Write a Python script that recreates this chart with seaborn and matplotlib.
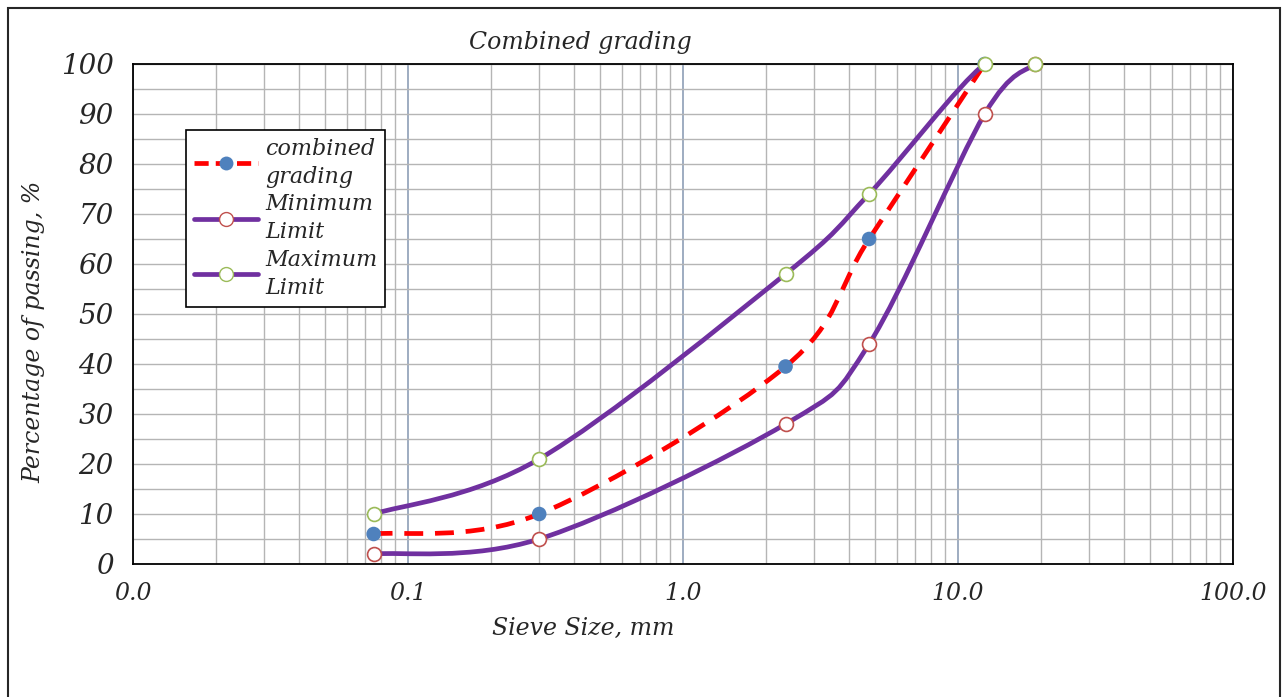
import numpy as np
import pandas as pd
import matplotlib
matplotlib.use("Agg")
import matplotlib.pyplot as plt
import seaborn as sns
from matplotlib.path import Path
from matplotlib.patches import PathPatch, Rectangle
from matplotlib.lines import Line2D
from matplotlib.ticker import FixedLocator, NullFormatter

# sieve data
sieve_comb = [0.075, 0.3, 2.36, 4.75, 12.5]
combined = [6, 10, 39.5, 65, 100]
sieve_lim = [0.075, 0.3, 2.36, 4.75, 12.5, 19.0]
min_limit = [2, 5, 28, 44, 90, 100]
max_limit = [10, 21, 58, 74, 100, 100]
xtick_vals = [0.01, 0.1, 1, 10, 100]
xtick_labels = ["0.0", "0.1", "1.0", "10.0", "100.0"]
ytick_vals = list(range(0, 101, 10))

sns.set_style("white")
serif = ["DejaVu Serif"]

fig = plt.figure(figsize=(12.87, 6.97), dpi=100)
ax = fig.add_axes([133/1287, 1-564/697, 1100/1287, 500/697])

def smooth_path(xs, ys):
    # smoothed line like excel: bezier segments, tangents taken in log-x space
    lx = np.log10(xs)
    y = np.asarray(ys, float)
    n = len(lx)
    verts = [(xs[0], y[0])]
    codes = [Path.MOVETO]
    for i in range(n - 1):
        p0 = (lx[max(i-1, 0)], y[max(i-1, 0)])
        p1 = (lx[i], y[i])
        p2 = (lx[i+1], y[i+1])
        p3 = (lx[min(i+2, n-1)], y[min(i+2, n-1)])
        c1 = (p1[0] + (p2[0]-p0[0])/6, p1[1] + (p2[1]-p0[1])/6)
        c2 = (p2[0] - (p3[0]-p1[0])/6, p2[1] - (p3[1]-p1[1])/6)
        verts += [(10**c1[0], c1[1]), (10**c2[0], c2[1]), (10**p2[0], p2[1])]
        codes += [Path.CURVE4]*3
    return Path(verts, codes)

purple = "#7030a0"
ax.set_xscale("log")
ax.set_xlim(0.01, 100)
ax.set_ylim(0, 100)

ax.add_patch(PathPatch(smooth_path(sieve_comb, combined), fill=False, ec="#ff0000", lw=3.4,
                       ls=(0, (4, 2.5)), zorder=3))
ax.add_patch(PathPatch(smooth_path(sieve_lim, min_limit), fill=False, ec=purple, lw=3.4, zorder=4))
ax.add_patch(PathPatch(smooth_path(sieve_lim, max_limit), fill=False, ec=purple, lw=3.4, zorder=4))

df_c = pd.DataFrame({"x": sieve_comb, "y": combined})
df_min = pd.DataFrame({"x": sieve_lim, "y": min_limit})
df_max = pd.DataFrame({"x": sieve_lim, "y": max_limit})
sns.scatterplot(data=df_c, x="x", y="y", ax=ax, s=110, color="#4f81bd", edgecolor="none", zorder=5, clip_on=False)
sns.scatterplot(data=df_min, x="x", y="y", ax=ax, s=100, color="white", edgecolor="#c0504d", linewidth=1.2, zorder=6, clip_on=False)
sns.scatterplot(data=df_max, x="x", y="y", ax=ax, s=100, color="white", edgecolor="#9bbb59", linewidth=1.2, zorder=6, clip_on=False)

# grid
ax.xaxis.set_major_locator(FixedLocator(xtick_vals))
minors = [m * 10.0**d for d in range(-2, 2) for m in range(2, 10)]
ax.xaxis.set_minor_locator(FixedLocator(minors))
ax.xaxis.set_minor_formatter(NullFormatter())
ax.set_yticks(ytick_vals)
ax.set_yticks(list(range(5, 100, 10)), minor=True)
ax.grid(True, which="major", axis="x", color="#8496b0", lw=1.1)
ax.grid(True, which="minor", axis="x", color="#b5b5b5", lw=1.0)
ax.grid(True, which="both", axis="y", color="#b5b5b5", lw=1.0)
ax.set_axisbelow(True)
ax.tick_params(which="both", length=0)
ax.tick_params(axis="x", which="major", length=5, direction="out", color="#000000", width=1)

ax.set_xticklabels(xtick_labels, family=serif, style="italic", fontsize=17, color="#262626")
ax.set_yticklabels([str(v) for v in ytick_vals], family=serif, style="italic", fontsize=20, color="#262626")
ax.tick_params(axis="x", pad=8)
ax.tick_params(axis="y", pad=14)
for s in ax.spines.values():
    s.set_color("black")
    s.set_linewidth(1.3)
ax.set_xlabel("")
ax.set_ylabel("")

fig.text(580/1287, 1-42/697, "Combined grading", family=serif, style="italic", fontsize=17,
         ha="center", va="center", color="#262626")
fig.text(583/1287, 1-628/697, "Sieve Size, mm", family=serif, style="italic", fontsize=17,
         ha="center", va="center", color="#262626")
fig.text(34/1287, 1-332/697, "Percentage of passing, %", family=serif, style="italic", fontsize=17,
         ha="center", va="center", rotation=90, color="#262626")

handles = [
    Line2D([], [], color="#ff0000", lw=3.4, ls=(0, (3, 1.5)), marker="o", ms=10, mfc="#4f81bd", mec="none"),
    Line2D([], [], color=purple, lw=3.4, marker="o", ms=10, mfc="white", mec="#c0504d"),
    Line2D([], [], color=purple, lw=3.4, marker="o", ms=10, mfc="white", mec="#9bbb59"),
]
labels = ["combined\ngrading", "Minimum\nLimit", "Maximum\nLimit"]
leg = ax.legend(handles, labels, loc="upper left", bbox_to_anchor=((186-133)/1100, (564-130)/500),
                frameon=True, fancybox=False, edgecolor="black", framealpha=1, borderaxespad=0,
                prop={"family": serif, "style": "italic", "size": 16}, handlelength=2.9,
                borderpad=0.35, labelspacing=0.25, handletextpad=0.3)
for t in leg.get_texts():
    t.set_linespacing(1.35)
leg.get_frame().set_linewidth(1.2)
leg.set_zorder(10)

fig.patches.append(Rectangle((8/1287, -0.02), 1272/1287, 1.02 - 8/697, transform=fig.transFigure,
                             fill=False, ec="#262626", lw=1.5))

fig.savefig("out.png", dpi=100)
